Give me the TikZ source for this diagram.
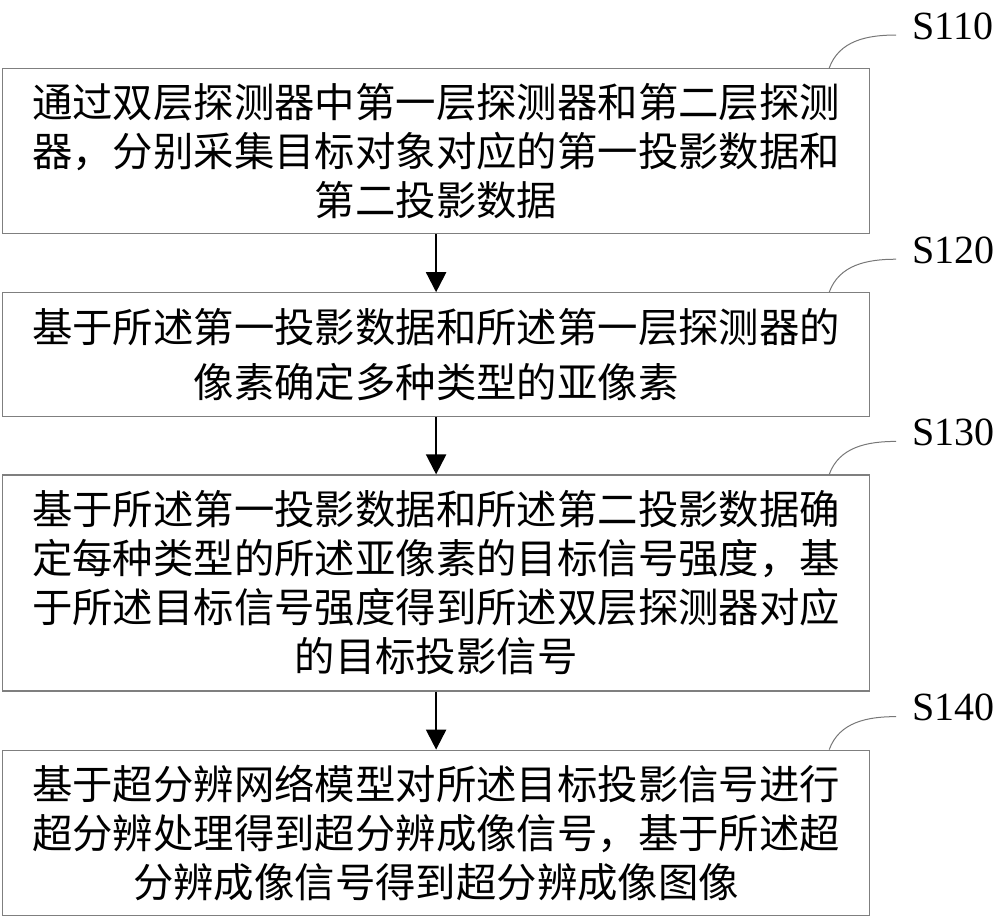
\documentclass[tikz,border=0pt]{standalone}
\usepackage{fontspec}
\setmainfont{Liberation Serif}
\newfontfamily\cjkfont{Noto Sans CJK SC}
\usetikzlibrary{arrows.meta, positioning}
\definecolor{boxline}{HTML}{7f7f7f}
\definecolor{leadline}{HTML}{777777}

\begin{document}
\begin{tikzpicture}[x=0.5pt, y=-0.5pt, node distance=29pt,
    stepbox/.style={draw=boxline, line width=0.6pt, minimum width=433.5pt,
                    inner sep=0pt, align=center,
                    font=\cjkfont\fontsize{20.2pt}{24.5pt}\selectfont},
    flow/.style={-{Triangle[length=10pt, width=10pt]}, line width=1.1pt},
    lead/.style={draw=leadline, line width=0.5pt},
    steplabel/.style={anchor=base west, inner sep=0pt,
                      font=\fontsize{20pt}{24pt}\selectfont}]
  \useasboundingbox (0,0) rectangle (1000,917);

  % steps
  \node[stepbox, minimum height=82.5pt, anchor=north west] (s110) at (2,68) {
    通过双层探测器中第一层探测器和第二层探测\\
    器，分别采集目标对象对应的第一投影数据和\\
    第二投影数据};
  \node[stepbox, minimum height=62pt, below=of s110] (s120) {
    基于所述第一投影数据和所述第一层探测器的\\[3pt]
    像素确定多种类型的亚像素};
  \node[stepbox, minimum height=108pt, below=28.5pt of s120] (s130) {
    基于所述第一投影数据和所述第二投影数据确\\
    定每种类型的所述亚像素的目标信号强度，基\\
    于所述目标信号强度得到所述双层探测器对应\\
    的目标投影信号};
  \node[stepbox, minimum height=82.5pt, below=of s130] (s140) {
    基于超分辨网络模型对所述目标投影信号进行\\
    超分辨处理得到超分辨成像信号，基于所述超\\
    分辨成像信号得到超分辨成像图像};

  \draw[flow] (s110) -- (s120);
  \draw[flow] (s130.north |- s120.south) -- (s130);
  \draw[flow] (s130) -- (s140);

  % step labels
  \foreach \s in {110,120,130,140} {
    \draw[lead] ([xshift=-20.5pt]s\s.north east) to[out=70, in=180]
      ++(33.5pt,16.5pt) coordinate (e\s);
    \node[steplabel] (t\s) at ([xshift=8pt, yshift=-2pt]e\s) {S\s};
  }
\end{tikzpicture}
\end{document}
